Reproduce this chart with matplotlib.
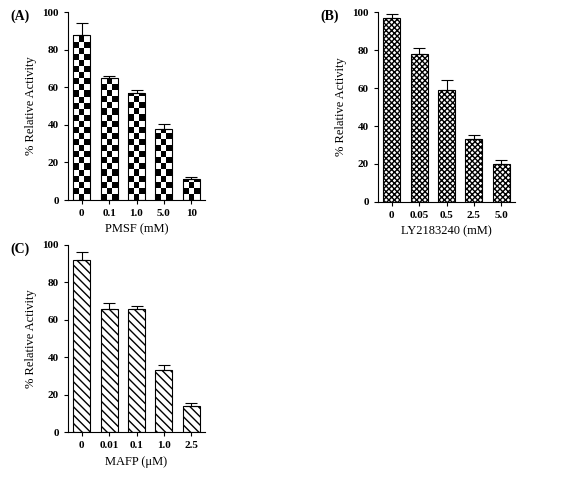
import numpy as np
import matplotlib.pyplot as plt

plt.rcParams['font.family'] = ['Liberation Serif', 'DejaVu Serif']

pmsf_labels = ['0', '0.1', '1.0', '5.0', '10']
pmsf_vals = [88, 65, 57, 38, 11]
pmsf_err = [6, 1, 1.5, 2.5, 1.5]

ly_labels = ['0', '0.05', '0.5', '2.5', '5.0']
ly_vals = [97, 78, 59, 33, 20]
ly_err = [2, 3, 5, 2, 2]

mafp_labels = ['0', '0.01', '0.1', '1.0', '2.5']
mafp_vals = [92, 66, 66, 33, 14]
mafp_err = [4, 3, 1.5, 3, 1.5]

W, H = 569, 478
fig = plt.figure(figsize=(W / 100, H / 100), dpi=100)


def panel(rect, labels, vals, err, xlabel, tag, hatch=None, checker=False):
    l, t, r, b = rect
    ax = fig.add_axes([l / W, 1 - b / H, (r - l) / W, (b - t) / H])
    x = np.arange(len(vals))
    face = 'none' if checker else 'white'
    bars = ax.bar(x, vals, width=0.62, color=face, edgecolor='black',
                  linewidth=0.8, hatch=hatch, zorder=2)
    if checker:
        img = (np.indices((31, 25)).sum(axis=0) % 2).astype(float)
        for bar in bars:
            im = ax.imshow(img, cmap='gray', extent=[-0.5, 4.5, 0, 100],
                           aspect='auto', interpolation='nearest', zorder=1)
            im.set_clip_path(bar)
    ax.errorbar(x, vals, yerr=[np.zeros(len(err)), err], fmt='none',
                ecolor='black', elinewidth=0.8, capsize=4, capthick=0.8, zorder=3)
    ax.set_xlim(-0.5, 4.5)
    ax.set_ylim(0, 100)
    ax.set_yticks([0, 20, 40, 60, 80, 100])
    ax.set_xticks(x)
    ax.set_xticklabels(labels)
    for s in ['top', 'right']:
        ax.spines[s].set_visible(False)
    ax.tick_params(labelsize=8, length=3)
    for lab in ax.get_xticklabels() + ax.get_yticklabels():
        lab.set_fontweight('bold')
    ax.set_ylabel('% Relative Activity', fontsize=9)
    ax.set_xlabel(xlabel, fontsize=9)
    fig.text((l - 58) / W, 1 - (t + 8) / H, tag, fontsize=10, fontweight='bold')
    return ax


panel((68, 12, 205, 200), pmsf_labels, pmsf_vals, pmsf_err, 'PMSF (mM)', '(A)', checker=True)
panel((378, 12, 515, 202), ly_labels, ly_vals, ly_err, 'LY2183240 (mM)', '(B)', hatch='xxxxxx')
panel((68, 245, 205, 432), mafp_labels, mafp_vals, mafp_err, 'MAFP (\u03bcM)', '(C)', hatch='\\\\\\\\')

fig.savefig('out.png', dpi=100)
